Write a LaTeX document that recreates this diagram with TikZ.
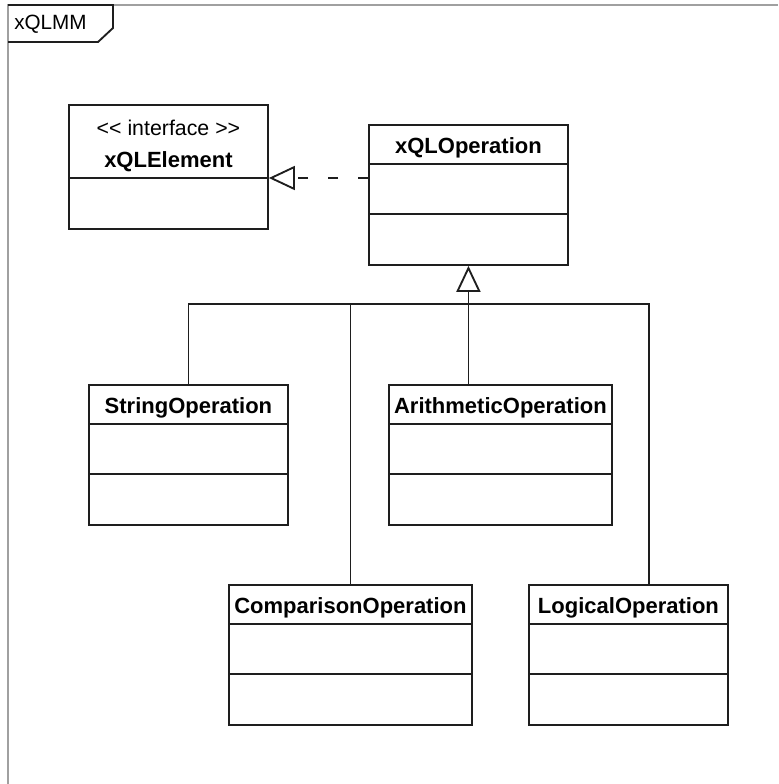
\documentclass[tikz,border=0pt]{standalone}
\usepackage{fontspec}
\setmainfont{Liberation Sans}
\usetikzlibrary{calc,arrows.meta}

\definecolor{framegray}{RGB}{160,160,160}
\definecolor{umlline}{RGB}{30,30,30}

\tikzset{
	umlbox/.style={draw=umlline, line width=1.4pt, anchor=north west, inner sep=0pt, minimum height=105pt},
	umlname/.style={inner sep=0.75pt, font=\fontsize{16.5}{19}\selectfont\bfseries},
	umlstereo/.style={inner sep=0.75pt, font=\fontsize{16}{19}\selectfont},
	umllink/.style={draw=umlline, line width=1.4pt},
	inherit/.style={umllink, -{Triangle[open, length=19.5pt, width=18pt, line width=1.4pt]}},
	realize/.style={inherit, dash pattern=on 7.5pt off 15pt}
}

\begin{document}
\begin{tikzpicture}[x=0.75pt,y=0.75pt,yscale=-1,xscale=1]
		\useasboundingbox (0,0) rectangle (778,784);
		
		% frame
		\draw [framegray, line width=1.5pt] (8,784) -- (8,5) -- (778,5) ;
		\draw [umlline, line width=1.4pt] (8,5) -- (113,5) -- (113,28) -- (98,42) -- (8,42) ;
		\node [umlstereo, font=\fontsize{15.5}{18}\selectfont, anchor=west] (frame-name) at (13,24) {xQLMM};
		
		% classes
		\node [umlbox, minimum width=149.25pt, minimum height=93pt] (xqlelem) at (68,104) {};
		\node [umlbox, minimum width=149.25pt] (xqlop) at (368,124) {};
		\node [umlbox, minimum width=149.25pt] (strop) at (88,384) {};
		\node [umlbox, minimum width=167.25pt] (arithop) at (388,384) {};
		\node [umlbox, minimum width=182.25pt] (compop) at (228,584) {};
		\node [umlbox, minimum width=149.25pt] (logop) at (528,584) {};
		
		% compartments
		\coordinate (elemdiv) at (68,178);
		\draw [umllink] (elemdiv) -- (elemdiv -| xqlelem.east) ;
		\foreach \b in {xqlop,strop,arithop,compop,logop} {
			\draw [umllink] ($(\b.north west)+(0,40)$) -- ($(\b.north east)+(0,40)$) ;
			\draw [umllink] ($(\b.north west)+(0,90)$) -- ($(\b.north east)+(0,90)$) ;
		}
		
		% names
		\node [umlstereo] (xqlelem-stereo) at ($(xqlelem.north)+(0,24)$) {<{}< interface >{}>};
		\node [umlname] (xqlelem-name) at ($(xqlelem.north)+(0,58)$) {xQLElement};
		\node [umlname] (xqlop-name) at ($(xqlop.north)+(0,24)$) {xQLOperation};
		\node [umlname] (strop-name) at ($(strop.north)+(0,24)$) {StringOperation};
		\node [umlname] (arithop-name) at ($(arithop.north)+(0,24)$) {ArithmeticOperation};
		\node [umlname] (compop-name) at ($(compop.north)+(0,24)$) {ComparisonOperation};
		\node [umlname] (logop-name) at ($(logop.north)+(0,24)$) {LogicalOperation};
		
		% realization
		\draw [realize] (xqlop.west |- elemdiv) -- (elemdiv -| xqlelem.east) ;
		
		% generalization
		\coordinate (logjoin) at (649,304);
		\draw [umllink] (strop.north) |- (logjoin) -- (logjoin |- logop.north) ;
		\draw [umllink] (compop.north) -- (compop.north |- logjoin) ;
		\draw [umllink] (xqlop.south |- arithop.north) -- (xqlop.south |- logjoin) ;
		\draw [inherit] (xqlop.south |- logjoin) -- (xqlop.south) ;
		
\end{tikzpicture}
\end{document}
